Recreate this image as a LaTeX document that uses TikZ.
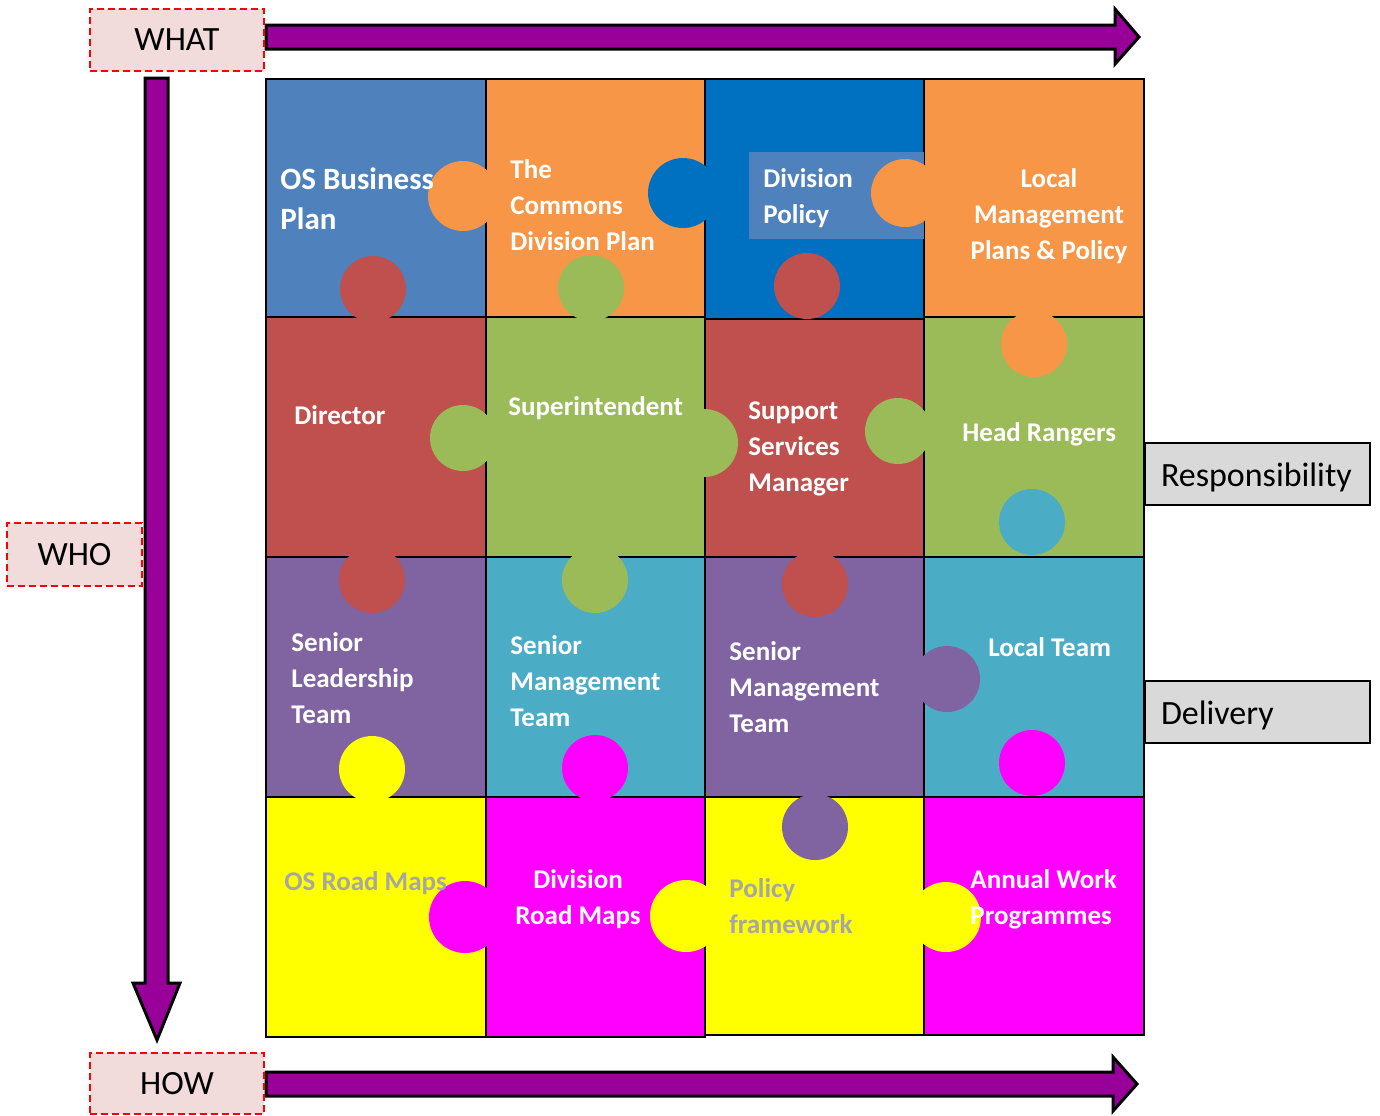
\documentclass[tikz,border=0pt]{standalone}
\usepackage{fontspec}
\setmainfont{Carlito}
\definecolor{cBlue}{HTML}{4F81BD}
\definecolor{cOrange}{HTML}{F79646}
\definecolor{cDark}{HTML}{0070C0}
\definecolor{cRed}{HTML}{C0504D}
\definecolor{cGreen}{HTML}{9BBB59}
\definecolor{cPurple}{HTML}{8064A2}
\definecolor{cTeal}{HTML}{4BACC6}
\definecolor{cYellow}{HTML}{FFFF00}
\definecolor{cMagenta}{HTML}{FF00FF}
\definecolor{cArrow}{HTML}{990099}
\definecolor{cPink}{HTML}{F2DCDB}
\definecolor{cGreyBox}{HTML}{D9D9D9}
\definecolor{cGreyText}{HTML}{A6A6A6}
\begin{document}
\begin{tikzpicture}[x=0.5pt,y=-0.5pt,
  tile/.style={draw=black, line width=1.2pt},
  blockarrow/.style={fill=cArrow, draw=black, line width=1.5pt, line join=miter},
  lbl/.style={font=\bfseries\fontsize{13.5}{18}\selectfont, text=white, inner sep=0pt, align=left},
  greylbl/.style={lbl, text=cGreyText},
  axisbox/.style={fill=cPink, draw=red, line width=1.2pt, dash pattern=on 3.5pt off 2pt,
    font=\fontsize{17}{20}\selectfont, inner sep=0pt},
  sidebox/.style={fill=cGreyBox, draw=black, line width=1pt, font=\fontsize{17}{20}\selectfont,
    inner ysep=0pt, inner xsep=8pt, minimum height=31pt, text width=96.5pt, align=left, anchor=west}
]
\useasboundingbox (0,0) rectangle (1380,1115);

% block arrows
\draw[blockarrow] (266,25) -- (1115,25) -- (1115,9) -- (1139,37) -- (1115,64) -- (1115,49) -- (266,49) -- cycle;
\draw[blockarrow] (266,1072) -- (1113,1072) -- (1113,1057) -- (1137,1084) -- (1113,1111) -- (1113,1096) -- (266,1096) -- cycle;
\draw[blockarrow] (145,78) -- (168,78) -- (168,983) -- (180,983) -- (157,1040) -- (133,983) -- (145,983) -- cycle;

% tiles
\draw[tile, fill=cBlue]    (266,79) rectangle (486,317);
\draw[tile, fill=cOrange]  (486,79) rectangle (705,317);
\draw[tile, fill=cDark]    (705,79) rectangle (924,319);
\draw[tile, fill=cOrange]  (924,79) rectangle (1144,317);

\draw[tile, fill=cRed]     (266,317) rectangle (486,557);
\draw[tile, fill=cGreen]   (486,317) rectangle (705,557);
\draw[tile, fill=cRed]     (705,319) rectangle (924,557);
\draw[tile, fill=cGreen]   (924,317) rectangle (1144,557);

\draw[tile, fill=cPurple]  (266,557) rectangle (486,797);
\draw[tile, fill=cTeal]    (486,557) rectangle (705,797);
\draw[tile, fill=cPurple]  (705,557) rectangle (924,797);
\draw[tile, fill=cTeal]    (924,557) rectangle (1144,797);

\draw[tile, fill=cYellow]  (266,797) rectangle (486,1037);
\draw[tile, fill=cMagenta] (486,797) rectangle (705,1037);
\draw[tile, fill=cYellow]  (705,797) rectangle (924,1035);
\draw[tile, fill=cMagenta] (924,797) rectangle (1144,1035);

% light panel behind Division Policy
\fill[cBlue] (749,152) rectangle (924,239);

% puzzle tabs
\fill[cOrange]  (463,196) circle (35);
\fill[cDark]    (683,193) circle (35);
\fill[cOrange]  (905,193) circle (34);
\fill[cRed]     (373,289) circle (33);
\fill[cGreen]   (591,288) circle (33);
\fill[cRed]     (807,286) circle (33);
\fill[cOrange]  (1034,344) circle (33);

\fill[cGreen]   (463,438) circle (33);
\fill[cGreen]   (704,443) circle (34);
\fill[cGreen]   (898,431) circle (33);
\fill[cTeal]    (1032,522) circle (33);
\fill[cRed]     (372,580) circle (33);
\fill[cGreen]   (595,580) circle (33);
\fill[cRed]     (815,584) circle (33);

\fill[cPurple]  (947,679) circle (33);
\fill[cYellow]  (372,769) circle (33);
\fill[cMagenta] (595,768) circle (33);
\fill[cMagenta] (1032,763) circle (33);
\fill[cPurple]  (815,827) circle (33);

\fill[cMagenta] (465,917) circle (36);
\fill[cYellow]  (686,916) circle (36);
\fill[cYellow]  (946,917) circle (35);

% texts
\node[lbl, font=\bfseries\fontsize{15.5}{20}\selectfont, anchor=west] (osbp) at (280,199) {OS Business\\Plan};
\node[lbl, anchor=west] (tcdp) at (510,205) {The\\Commons\\Division Plan};
\node[lbl, anchor=west] (divpol) at (763,198) {Division\\Policy};
\node[lbl, align=center] (lmpp) at (1049,216) {Local\\Management\\Plans \& Policy};

\node[lbl, anchor=west] (dir) at (294,415) {Director};
\node[lbl, anchor=west] (sup) at (508,408) {Superintendent};
\node[lbl, anchor=west] (ssm) at (748,449) {Support\\Services\\Manager};
\node[lbl, anchor=west] (hr) at (962,434) {Head Rangers};

\node[lbl, anchor=west] (slt) at (291,678) {Senior\\Leadership\\Team};
\node[lbl, anchor=west] (smt1) at (510,681) {Senior\\Management\\Team};
\node[lbl, anchor=west] (smt2) at (729,687) {Senior\\Management\\Team};
\node[lbl, anchor=west] (lt) at (988,647) {Local Team};

\node[greylbl, anchor=west] (osrm) at (284,883) {OS Road Maps};
\node[lbl, align=center] (drm) at (578,899) {Division\\Road Maps};
\node[greylbl, anchor=west] (pf) at (729,906) {Policy\\framework};
\node[lbl, anchor=west] (awp) at (970,899) {Annual Work\\Programmes};

% axis labels
\node[axisbox, minimum width=87pt, minimum height=31pt] (what) at (177,40) {WHAT};
\node[axisbox, minimum width=67.5pt, minimum height=31.5pt] (who) at (74.5,554.5) {WHO};
\node[axisbox, minimum width=87pt, minimum height=30.5pt] (how) at (177,1083.5) {HOW};

% side labels
\node[sidebox] (resp) at (1144,474) {\rule{0pt}{15.7pt}Responsibility};
\node[sidebox] (deliv) at (1144,712) {\rule{0pt}{15.7pt}Delivery};
\end{tikzpicture}
\end{document}
